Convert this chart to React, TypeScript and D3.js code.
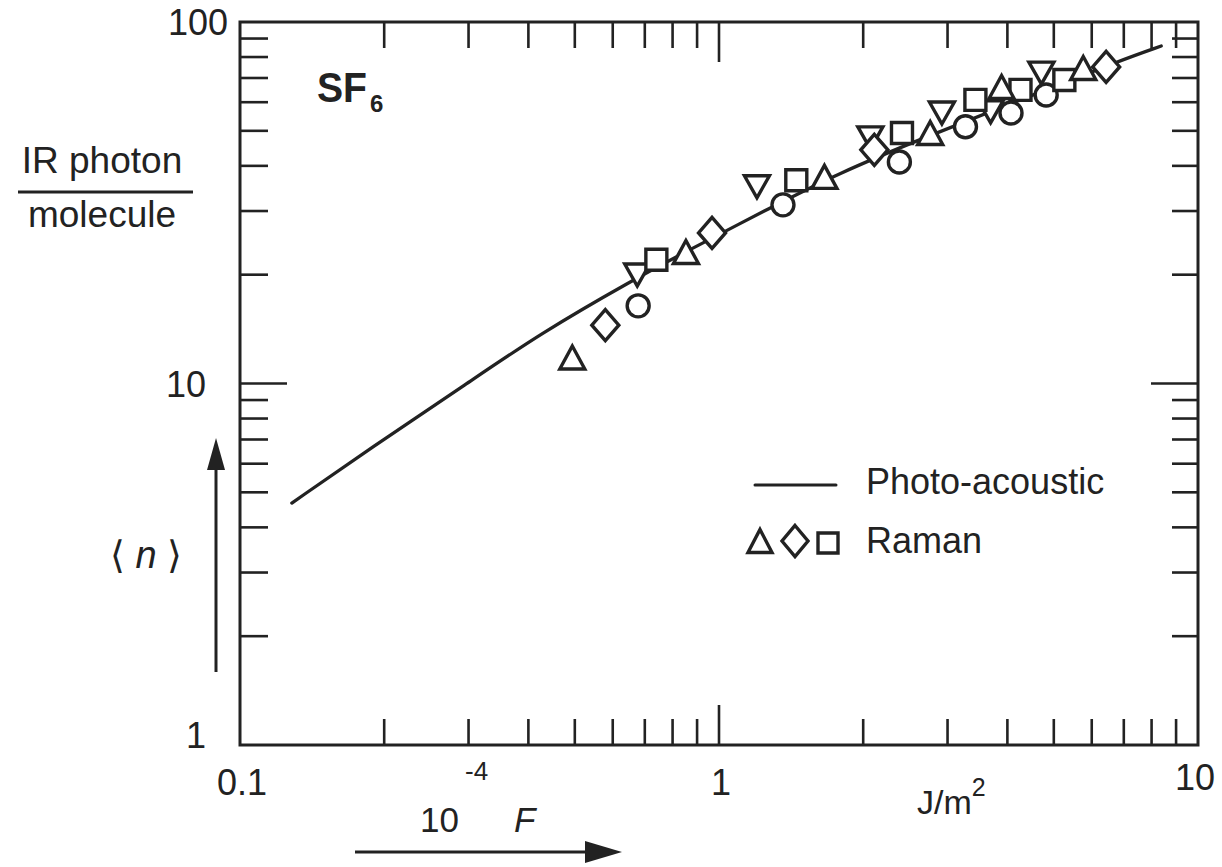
import React from 'react';
import * as d3 from 'd3';

// ---------- data ----------
const xDomain: [number, number] = [0.1, 10];
const yDomain: [number, number] = [1, 100];
const xTickLabels = ['0.1', '1', '10'];
const xTickValues = [0.1, 1, 10];
const yTickLabels = ['1', '10', '100'];
const yTickValues = [1, 10, 100];

// photo-acoustic curve (F, <n>)
const photoAcoustic: [number, number][] = [
  [0.1283, 4.67], [0.1866, 6.6], [0.3013, 10.1], [0.4217, 13.7], [0.659, 19.3],
  [0.866, 23.4], [1.29, 30.8], [1.78, 38.2], [2.61, 47.2], [4.22, 60.6],
  [6.92, 78.5], [8.38, 85.8],
];
// Raman series
const ramanTriUp: [number, number][] = [
  [0.494, 11.8], [0.853, 23.1], [1.66, 37.3], [2.76, 49.3], [3.89, 66.1], [5.76, 74.6],
];
const ramanDiamond: [number, number][] = [
  [0.579, 14.5], [0.967, 26.1], [2.11, 44.3], [6.43, 75.1],
];
const ramanSquare: [number, number][] = [
  [0.74, 22.0], [1.45, 36.5], [2.41, 49.3], [3.43, 60.9], [4.26, 64.9], [5.26, 69.1],
];
const seriesCircle: [number, number][] = [
  [0.678, 16.4], [1.36, 31.2], [2.38, 41.0], [3.27, 51.3], [4.07, 56.0], [4.82, 62.8],
];
const seriesTriDown: [number, number][] = [
  [0.675, 19.95], [1.2, 35.0], [2.07, 47.8], [2.92, 56.0], [3.69, 56.4], [4.71, 72.2],
];

// ---------- layout ----------
const W = 1222, H = 867;
const L = 240, R = 1198, T = 22, B = 745;
const INK = '#222';
const FONT = '"Liberation Sans", Arial, Helvetica, sans-serif';

const x = d3.scaleLog().domain(xDomain).range([L, R]);
const y = d3.scaleLog().domain(yDomain).range([B, T]);

const triUpPath = (w: number, h: number) => `M0,${-h / 2}L${w / 2},${h / 2}L${-w / 2},${h / 2}Z`;
const triDownPath = (w: number, h: number) => `M0,${h / 2}L${w / 2},${-h / 2}L${-w / 2},${-h / 2}Z`;
const diamondPath = (w: number, h: number) => `M0,${-h / 2}L${w / 2},0L0,${h / 2}L${-w / 2},0Z`;
const squarePath = (s: number) => `M${-s / 2},${-s / 2}h${s}v${s}h${-s}Z`;

export default function App() {
  const xMinor = x.ticks().filter((v) => !xTickValues.some((m) => Math.abs(m - v) < 1e-9));
  const yMinor = y.ticks().filter((v) => !yTickValues.some((m) => Math.abs(m - v) < 1e-9));

  const line = d3
    .line<[number, number]>()
    .x((d) => x(d[0]))
    .y((d) => y(d[1]))
    .curve(d3.curveBasis);

  const markerStyle = { fill: '#fff', stroke: INK, strokeWidth: 3.4, strokeLinejoin: 'miter' as const };

  const drawSeries = (data: [number, number][], path: string, key: string) =>
    data.map((d, i) => (
      <path key={key + i} d={path} transform={`translate(${x(d[0])},${y(d[1])})`} {...markerStyle} />
    ));

  const minorLen = 26, majorLenX = 40, majorLenY = 47;

  return (
    <svg
      width={W}
      height={H}
      style={{ position: 'absolute', left: 0, top: 0, background: '#fff' }}
      fontFamily={FONT}
    >
      <rect x={0} y={0} width={W} height={H} fill="#fff" />
      {/* frame */}
      <rect x={L} y={T} width={R - L} height={B - T} fill="none" stroke={INK} strokeWidth={3} />

      {/* x ticks bottom & top */}
      {xMinor.map((v, i) => (
        <g key={'xm' + i} stroke={INK} strokeWidth={2.6}>
          <line x1={x(v)} x2={x(v)} y1={B} y2={B - minorLen} />
          <line x1={x(v)} x2={x(v)} y1={T} y2={T + minorLen} />
        </g>
      ))}
      {xTickValues.slice(1, -1).map((v, i) => (
        <g key={'xM' + i} stroke={INK} strokeWidth={2.6}>
          <line x1={x(v)} x2={x(v)} y1={B} y2={B - majorLenX} />
          <line x1={x(v)} x2={x(v)} y1={T} y2={T + majorLenX} />
        </g>
      ))}
      {/* y ticks left & right */}
      {yMinor.map((v, i) => (
        <g key={'ym' + i} stroke={INK} strokeWidth={2.6}>
          <line x1={L} x2={L + minorLen + 2} y1={y(v)} y2={y(v)} />
          <line x1={R} x2={R - minorLen} y1={y(v)} y2={y(v)} />
        </g>
      ))}
      {yTickValues.slice(1, -1).map((v, i) => (
        <g key={'yM' + i} stroke={INK} strokeWidth={2.6}>
          <line x1={L} x2={L + majorLenY} y1={y(v)} y2={y(v)} />
          <line x1={R} x2={R - majorLenY} y1={y(v)} y2={y(v)} />
        </g>
      ))}

      {/* tick labels */}
      {xTickValues.map((v, i) => (
        <text key={'xl' + i} x={x(v) + (i === 2 ? -3 : 2)} y={i === 2 ? 790 : 795} fontSize={36} textAnchor="middle" fill={INK}>
          {xTickLabels[i]}
        </text>
      ))}
      {yTickValues.map((v, i) => (
        <text
          key={'yl' + i}
          x={i === 2 ? 228 : 206}
          y={y(v) + (i === 0 ? 3 : 13)}
          fontSize={36}
          textAnchor="end"
          fill={INK}
        >
          {yTickLabels[i]}
        </text>
      ))}

      {/* curve */}
      <path d={line(photoAcoustic) || ''} fill="none" stroke={INK} strokeWidth={3.3} strokeLinecap="round" />

      {/* markers */}
      {drawSeries(seriesCircle, 'M11,0A11,11 0 1 1 -11,0A11,11 0 1 1 11,0Z', 'c')}
      {drawSeries(seriesTriDown, triDownPath(25, 22), 'td')}
      {drawSeries(ramanSquare, squarePath(21), 's')}
      {drawSeries(ramanTriUp, triUpPath(25, 23), 'tu')}
      {drawSeries(ramanDiamond, diamondPath(27, 31), 'd')}

      {/* SF6 label */}
      <text x={317} y={102} fontSize={42} fontWeight="bold" fill={INK} textLength={50} lengthAdjust="spacingAndGlyphs">
        SF
      </text>
      <text x={370} y={112} fontSize={24} fontWeight="bold" fill={INK}>6</text>

      {/* y-axis title */}
      <text x={102} y={173} fontSize={37} textAnchor="middle" fill={INK}>IR photon</text>
      <line x1={18} x2={193} y1={192} y2={192} stroke={INK} strokeWidth={3} />
      <text x={102} y={227} fontSize={37} textAnchor="middle" fill={INK}>molecule</text>
      <text x={146} y={568} fontSize={38} textAnchor="middle" fill={INK}>
        {'\u27E8 '}
        <tspan fontStyle="italic">n</tspan>
        {' \u27E9'}
      </text>
      {/* up arrow */}
      <line x1={216} x2={216} y1={672} y2={465} stroke={INK} strokeWidth={3} />
      <path d="M216,438L225,470L207,470Z" fill={INK} />

      {/* x-axis title */}
      <text x={420} y={832} fontSize={35} fill={INK}>10</text>
      <text x={465} y={780} fontSize={26} fill={INK}>-4</text>
      <text x={514} y={832} fontSize={35} fontStyle="italic" fill={INK}>F</text>
      <text x={917} y={814} fontSize={34} fill={INK}>
        J/m
        <tspan fontSize={25} dy={-18}>2</tspan>
      </text>
      {/* right arrow */}
      <line x1={355} x2={590} y1={852} y2={852} stroke={INK} strokeWidth={3} />
      <path d="M622,852L585,841L585,863Z" fill={INK} />

      {/* legend */}
      <line x1={755} x2={836} y1={485} y2={485} stroke={INK} strokeWidth={3} strokeLinecap="round" />
      <text x={866} y={494} fontSize={36} fill={INK}>Photo-acoustic</text>
      <path d={triUpPath(24, 23)} transform="translate(760,541)" {...markerStyle} />
      <path d={diamondPath(26, 31)} transform="translate(795,541)" {...markerStyle} />
      <path d={squarePath(20)} transform="translate(828,543)" {...markerStyle} />
      <text x={866} y={553} fontSize={36} fill={INK}>Raman</text>
    </svg>
  );
}
